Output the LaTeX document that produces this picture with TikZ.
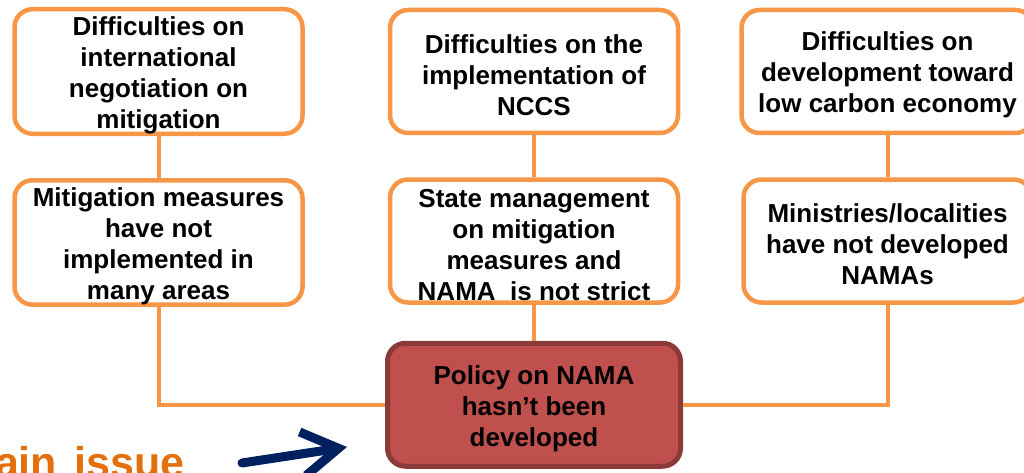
\documentclass[tikz,border=0pt]{standalone}
\usepackage{fontspec}
\setmainfont{Liberation Sans}
\usetikzlibrary{positioning}
\usetikzlibrary{arrows.meta}

\definecolor{boxorange}{HTML}{F79646}
\definecolor{policyred}{HTML}{C0504D}
\definecolor{policyborder}{HTML}{8C3A38}
\definecolor{issueorange}{HTML}{E4700D}
\definecolor{arrownavy}{HTML}{002060}

\newcommand{\firstline}{\rule{0pt}{26pt}}

\begin{document}
\begin{tikzpicture}[
x=1pt,y=1pt,
cause/.style={
	% The shape:
	rectangle,rounded corners=18pt,
	% The size:
	minimum width=288pt,minimum height=123pt,inner sep=0pt,
	% The border:
	line width=4.5pt,draw=boxorange,
	% The filling:
	fill=white,
	% Font
	align=center,font=\bfseries\fontsize{26}{31}\selectfont},
problem/.style={
	cause,
	minimum width=293pt,minimum height=123pt,
	line width=5pt,draw=policyborder,fill=policyred},
link/.style={line width=4pt,boxorange},
]
\useasboundingbox (0,0) rectangle (1024,472);
\clip (0,0) rectangle (1024,472);

\node (nego) [cause] at (158.5,400.5) {\firstline Difficulties on\\international\\negotiation on\\mitigation};
\node (impl) [cause,right=83pt of nego] {\firstline Difficulties on the\\implementation of\\NCCS};
\node (lowc) [cause,right=59pt of impl,minimum width=292pt] {\firstline Difficulties on\\development toward\\low carbon economy};

\node (mitig) [cause,node distance=42pt,below=of nego] {\firstline Mitigation measures\\have not\\implemented in\\many areas};
\node (state) [cause,node distance=42pt,below=of impl] {\firstline State management\\on mitigation\\measures and\\NAMA\ \ is not strict};
\node (minis) [cause,node distance=42pt,below=of lowc] {\firstline Ministries/localities\\have not developed\\NAMAs};

\node (policy) [problem,node distance=36pt,below=of state] {\firstline Policy on NAMA\\hasn’t been\\developed};

\draw[link] (nego) -- (mitig);
\draw[link] (impl) -- (state);
\draw[link] (lowc) -- (minis);
\draw[link] (state) -- (policy);
\draw[link] (mitig.south) |- (policy.west);
\draw[link] (minis.south) |- (policy.east);

\node (issue) [anchor=base west,inner sep=0pt,text=issueorange,
	font=\bfseries\fontsize{43}{48}\selectfont] at (-41,-5) {Main\hspace{0.4em}issue};
\coordinate (from) at (242,9);
\coordinate (to) at (347,25);
\draw[-{Straight Barb[length=36pt,width=44pt]},line width=9pt,arrownavy,line cap=round] (from) -- (to);

\end{tikzpicture}
\end{document}
